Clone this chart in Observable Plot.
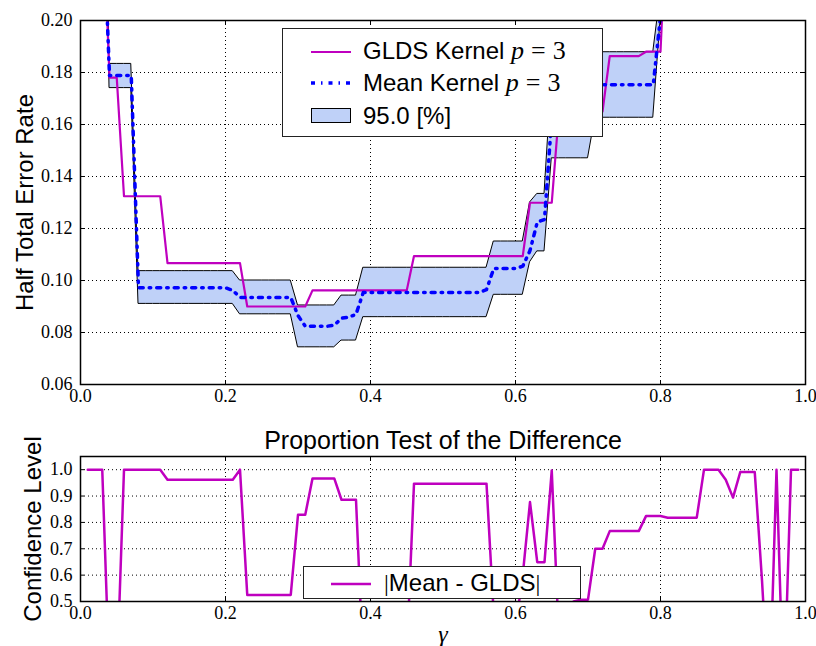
<!DOCTYPE html>
<html><head><meta charset="utf-8">
<script src="https://cdn.jsdelivr.net/npm/d3@7"></script>
<script src="https://cdn.jsdelivr.net/npm/@observablehq/plot@0.6"></script>
<style>
body{margin:0;background:#fff;}
#wrap{position:relative;width:816px;height:646px;overflow:hidden;font-family:"Liberation Sans",Arial,sans-serif;background:#fff;}
#top,#bot{position:absolute;left:0;}
#top{top:0}
#bot{top:410px}
.leg{position:absolute;background:#fff;border:1.3px solid #222;box-sizing:border-box;}
.leg .t{position:absolute;font-size:24px;line-height:28px;white-space:nowrap;color:#000;}
.leg svg{position:absolute;overflow:visible}
.m{font-family:"Liberation Serif",serif;font-style:italic;font-size:26px;}
.s{font-family:"Liberation Serif",serif;font-size:26px;}
.eq{font-family:"Liberation Serif",serif;font-size:26px;padding:0 7px;}
.bar{font-family:"Liberation Serif",serif;}
</style></head><body>
<div id="wrap">
<div id="top"></div>
<div id="bot"></div>
<div class="leg" style="left:282px;top:28px;width:321px;height:109px;">
  <svg style="left:28px;top:13px" width="40" height="20"><line x1="0" x2="40" y1="10" y2="10" stroke="#bf00bf" stroke-width="2.2"/></svg>
  <div class="t" style="left:80px;top:8px">GLDS Kernel <span class="m">p</span><span class="eq">=</span><span class="s">3</span></div>
  <svg style="left:28px;top:44px" width="40" height="20"><line x1="0" x2="40" y1="10" y2="10" stroke="#0000ff" stroke-width="3.5" stroke-dasharray="4,6,1.5,6"/></svg>
  <div class="t" style="left:80px;top:40px">Mean Kernel <span class="m">p</span><span class="eq">=</span><span class="s">3</span></div>
  <svg style="left:28px;top:79px" width="40" height="15"><rect x="0.5" y="0.5" width="39" height="14" fill="#bfd1f8" stroke="#000" stroke-width="1"/></svg>
  <div class="t" style="left:80px;top:73px">95.0 [%]</div>
</div>
<div class="leg" style="left:303px;top:566px;width:278px;height:33px;">
  <svg style="left:27px;top:7px" width="40" height="20"><line x1="0" x2="40" y1="10" y2="10" stroke="#bf00bf" stroke-width="2.5"/></svg>
  <div class="t" style="left:80px;top:2px"><span class="bar">|</span>Mean - GLDS<span class="bar">|</span></div>
</div>
</div>
<script>
// ---- data ----
const gammaTop = [0.03,0.04,0.05,0.06,0.07,0.08,0.09,
  0.10,0.11,0.12,0.13,0.14,0.15,0.16,0.17,0.18,0.19,
  0.20,0.21,0.22,0.23,0.24,0.25,0.26,0.27,0.28,0.29,
  0.30,0.31,0.32,0.33,0.34,0.35,0.36,0.37,0.38,0.39,
  0.40,0.41,0.42,0.43,0.44,0.45,0.46,0.47,0.48,0.49,
  0.50,0.51,0.52,0.53,0.54,0.55,0.56,0.57,0.58,0.59,
  0.60,0.61,0.62,0.63,0.64,0.65,0.66,0.67,0.68,0.69,
  0.70,0.71,0.72,0.73,0.74,0.75,0.76,0.77,0.78,0.79,
  0.80,0.81];
const gldsRate = [0.25,0.178,0.178,0.1324,0.1324,0.1324,0.1324,
  0.1324,0.1324,0.1067,0.1067,0.1067,0.1067,0.1067,0.1067,0.1067,0.1067,
  0.1067,0.1067,0.1067,0.090,0.090,0.090,0.090,0.090,0.090,0.090,
  0.090,0.090,0.0962,0.0962,0.0962,0.0962,0.0962,0.0962,0.0962,0.0962,
  0.0962,0.0962,0.0962,0.0962,0.0962,0.0962,0.1094,0.1094,0.1094,0.1094,
  0.1094,0.1094,0.1094,0.1094,0.1094,0.1094,0.1094,0.1094,0.1094,0.1094,
  0.1094,0.1094,0.1299,0.1299,0.1299,0.1299,0.165,0.165,0.165,0.165,
  0.165,0.165,0.165,0.1863,0.1863,0.1863,0.1863,0.1863,0.188,0.188,
  0.188,0.25];
const meanRate = [0.25,0.1788,0.1788,0.1788,0.1788,0.0972,0.0972,
  0.0972,0.0972,0.0972,0.0972,0.0972,0.0972,0.0972,0.0972,0.0972,0.0972,
  0.0972,0.0962,0.0935,0.0935,0.0935,0.0935,0.0935,0.0935,0.0935,0.0935,
  0.0865,0.0824,0.0824,0.0824,0.0824,0.0828,0.0855,0.0859,0.0870,0.0954,
  0.0954,0.0954,0.0954,0.0954,0.0954,0.0954,0.0954,0.0954,0.0954,0.0954,
  0.0954,0.0954,0.0954,0.0954,0.0954,0.0954,0.0965,0.1046,0.1046,0.1046,
  0.1046,0.1055,0.1115,0.1224,0.1235,0.1625,0.1625,0.1625,0.1625,0.1625,
  0.1625,0.1753,0.1753,0.1753,0.1753,0.1753,0.1753,0.1753,0.1753,0.1753,
  0.2015,0.25];
const bandUpper = [0.35,0.1833,0.1833,0.1833,0.1833,0.1036,0.1036,
  0.1036,0.1036,0.1036,0.1036,0.1036,0.1036,0.1036,0.1036,0.1036,0.1036,
  0.1036,0.1036,0.100,0.100,0.100,0.100,0.100,0.100,0.100,0.100,
  0.0904,0.0904,0.0904,0.0904,0.0904,0.0904,0.0942,0.0942,0.0942,0.1049,
  0.1049,0.1049,0.1049,0.1049,0.1049,0.1049,0.1049,0.1049,0.1049,0.1049,
  0.1049,0.1049,0.1049,0.1049,0.1049,0.1049,0.1049,0.115,0.115,0.115,
  0.115,0.115,0.130,0.1333,0.1333,0.178,0.178,0.178,0.178,0.178,
  0.178,0.1878,0.1878,0.1878,0.1878,0.1878,0.1878,0.1878,0.1878,0.1878,
  0.21,0.35];
const bandLower = [0.35,0.174,0.174,0.174,0.174,0.091,0.091,
  0.091,0.091,0.091,0.091,0.091,0.091,0.091,0.091,0.091,0.091,
  0.091,0.091,0.087,0.087,0.087,0.087,0.087,0.087,0.087,0.087,
  0.0743,0.0743,0.0743,0.0743,0.0743,0.0743,0.0769,0.0769,0.0769,0.0859,
  0.0859,0.0859,0.0859,0.0859,0.0859,0.0859,0.0859,0.0859,0.0859,0.0859,
  0.0859,0.0859,0.0859,0.0859,0.0859,0.0859,0.0859,0.0945,0.0945,0.0945,
  0.0945,0.0945,0.107,0.1112,0.1112,0.147,0.147,0.147,0.147,0.147,
  0.147,0.1626,0.1626,0.1626,0.1626,0.1626,0.1626,0.1626,0.1626,0.1626,
  0.2,0.35];

const gammaBot = [0.01,0.02,0.03,0.04,0.05,0.06,0.07,0.08,0.09,
  0.10,0.11,0.12,0.13,0.14,0.15,0.16,0.17,0.18,0.19,
  0.20,0.21,0.22,0.23,0.24,0.25,0.26,0.27,0.28,0.29,
  0.30,0.31,0.32,0.33,0.34,0.35,0.36,0.37,0.38,0.39,
  0.40,0.41,0.42,0.43,0.44,0.45,0.46,0.47,0.48,0.49,
  0.50,0.51,0.52,0.53,0.54,0.55,0.56,0.57,0.58,0.59,
  0.60,0.61,0.62,0.63,0.64,0.65,0.66,0.67,0.68,0.69,
  0.70,0.71,0.72,0.73,0.74,0.75,0.76,0.77,0.78,0.79,
  0.80,0.81,0.82,0.83,0.84,0.85,0.86,0.87,0.88,0.89,
  0.90,0.91,0.92,0.93,0.94,0.95,0.96,0.97,0.98,0.99];
const confidence = [1.0,1.0,1.0,0.2,0.2,1.0,1.0,1.0,1.0,
  1.0,1.0,0.962,0.962,0.962,0.962,0.962,0.962,0.962,0.962,
  0.962,0.962,1.0,0.525,0.525,0.525,0.525,0.525,0.525,0.525,
  0.829,0.829,0.967,0.967,0.967,0.967,0.886,0.886,0.886,0.25,
  0.3,0.3,0.3,0.3,0.3,0.3,0.947,0.947,0.947,0.947,
  0.947,0.947,0.947,0.947,0.947,0.947,0.947,0.45,0.4,0.4,
  0.4,0.6,0.877,0.649,0.649,0.997,0.35,0.45,0.5,0.507,
  0.507,0.70,0.70,0.767,0.767,0.767,0.767,0.767,0.824,0.824,
  0.824,0.818,0.818,0.818,0.818,0.818,1.0,1.0,1.0,0.962,
  0.894,0.991,0.991,0.991,0.58,0.1,1.0,0.1,1.0,1.0];

const xTicks = [0,0.2,0.4,0.6,0.8,1.0];
const yTicksTop = [0.06,0.08,0.10,0.12,0.14,0.16,0.18,0.20];
const yTicksBot = [0.5,0.6,0.7,0.8,0.9,1.0];
const yLabelTop = "Half Total Error Rate";
const yLabelBot = "Confidence Level";
const xLabel = "γ";
const titleBot = "Proportion Test of the Difference";

// ---- style ----
const serif = "Liberation Serif";
const sans = "Liberation Sans";
const magenta = "#bf00bf";
const bandFill = "#bfd1f8";
const grid = {stroke: "black", strokeOpacity: 1, strokeWidth: 1, strokeDasharray: "1,3"};
const tickText = {fontSize: 18, fontFamily: serif, fill: "black"};

const topRows = gammaTop.map((g, i) => ({g, glds: gldsRate[i], mean: meanRate[i], lo: bandLower[i], hi: bandUpper[i]}));
const botRows = gammaBot.map((g, i) => ({g, c: confidence[i]}));

const topH = 410, topMT = 20, topMB = 26, ML = 80, MR = 11;
const frameHTop = topH - topMT - topMB;
const frameW = 816 - ML - MR;

const topPlot = Plot.plot({
  width: 816, height: topH, marginLeft: ML, marginRight: MR, marginTop: topMT, marginBottom: topMB,
  style: {fontSize: "18px", background: "white", overflow: "visible"},
  x: {domain: [0, 1]},
  y: {domain: [0.06, 0.20]},
  marks: [
    Plot.gridX(xTicks, grid),
    Plot.gridY(yTicksTop, grid),
    Plot.areaY(topRows, {x: "g", y1: "lo", y2: "hi", fill: bandFill, stroke: "black", strokeWidth: 1, clip: true}),
    Plot.line(topRows, {x: "g", y: "glds", stroke: magenta, strokeWidth: 2.2, clip: true}),
    Plot.line(topRows, {x: "g", y: "mean", stroke: "#0000ff", strokeWidth: 3.5, strokeDasharray: "4,6,1.5,6", clip: true}),
    Plot.ruleX(xTicks, {x: d => d, insetBottom: frameHTop - 4, stroke: "black"}),
    Plot.ruleX(xTicks, {x: d => d, insetTop: frameHTop - 4, stroke: "black"}),
    Plot.ruleY(yTicksTop, {y: d => d, insetRight: frameW - 4, stroke: "black"}),
    Plot.ruleY(yTicksTop, {y: d => d, insetLeft: frameW - 4, stroke: "black"}),
    Plot.axisX(xTicks, {tickSize: 0, tickPadding: 5, tickFormat: d3.format(".1f"), label: null, ...tickText}),
    Plot.axisY(yTicksTop, {tickSize: 0, tickPadding: 8, tickFormat: d3.format(".2f"), label: null, ...tickText}),
    Plot.frame({stroke: "black", strokeWidth: 1.5}),
    Plot.text([yLabelTop], {text: d => d, frameAnchor: "left", textAnchor: "middle", lineAnchor: "middle", rotate: -90, dx: -55, fontSize: 24, fontFamily: sans, fill: "black"})
  ]
});
document.getElementById("top").appendChild(topPlot);

const botH = 236, botMT = 46, botMB = 45;
const frameHBot = botH - botMT - botMB;
const botPlot = Plot.plot({
  width: 816, height: botH, marginLeft: ML, marginRight: MR, marginTop: botMT, marginBottom: botMB,
  style: {fontSize: "18px", background: "white", overflow: "visible"},
  x: {domain: [0, 1]},
  y: {domain: [0.5, 1.05]},
  marks: [
    Plot.gridX(xTicks, grid),
    Plot.gridY(yTicksBot, grid),
    Plot.line(botRows, {x: "g", y: "c", stroke: magenta, strokeWidth: 2.5, clip: true}),
    Plot.ruleX(xTicks, {x: d => d, insetBottom: frameHBot - 4, stroke: "black"}),
    Plot.ruleX(xTicks, {x: d => d, insetTop: frameHBot - 4, stroke: "black"}),
    Plot.ruleY(yTicksBot, {y: d => d, insetRight: frameW - 4, stroke: "black"}),
    Plot.ruleY(yTicksBot, {y: d => d, insetLeft: frameW - 4, stroke: "black"}),
    Plot.axisX(xTicks, {tickSize: 0, tickPadding: 5, tickFormat: d3.format(".1f"), label: null, ...tickText}),
    Plot.axisY(yTicksBot, {tickSize: 0, tickPadding: 8, tickFormat: d3.format(".1f"), label: null, ...tickText}),
    Plot.frame({stroke: "black", strokeWidth: 1.5}),
    Plot.text([titleBot], {text: d => d, frameAnchor: "top", textAnchor: "middle", lineAnchor: "middle", dy: -16, fontSize: 25, fontFamily: sans, fill: "black"}),
    Plot.text([yLabelBot], {text: d => d, frameAnchor: "left", textAnchor: "middle", lineAnchor: "middle", rotate: -90, dx: -47, fontSize: 24, fontFamily: sans, fill: "black"}),
    Plot.text([xLabel], {text: d => d, frameAnchor: "bottom", textAnchor: "middle", lineAnchor: "middle", dy: 33, fontSize: 24, fontStyle: "italic", fontFamily: serif, fill: "black"})
  ]
});
document.getElementById("bot").appendChild(botPlot);
</script>
</body></html>
